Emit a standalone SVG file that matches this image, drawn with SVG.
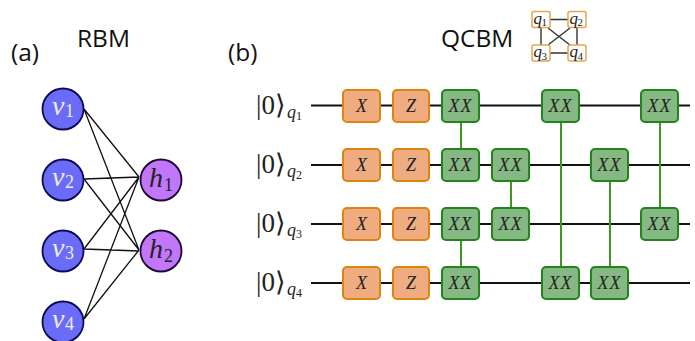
<svg xmlns="http://www.w3.org/2000/svg" width="695" height="341" viewBox="0 0 695 341">
<style>
.s{font-family:"Open Sans","DejaVu Sans",sans-serif;fill:#111;font-size:24.500px}
.m{font-family:"Liberation Serif",serif;font-style:italic;fill:#222}
.r{font-family:"Liberation Serif",serif;fill:#222}
.w{fill:#eee}
.v{fill:#6a6cf8;stroke:#0a0a55;stroke-width:1.8}
.h{fill:#c277fb;stroke:#1a0a33;stroke-width:1.8}
.e{stroke:#111;stroke-width:1.3;fill:none}
.wire{stroke:#111;stroke-width:2;fill:none}
.cz{stroke:#3d9a1e;stroke-width:2;fill:none}
.o{fill:#efac80;stroke:#e08410;stroke-width:2}
.g{fill:#85b882;stroke:#22841a;stroke-width:2}
.q{fill:#fff;stroke:#e5a64e;stroke-width:1.5}
.t{stroke:#333;stroke-width:1.4;fill:none}
.lb{font-size:28px}
.ls{font-size:18px}
.gt{font-size:18px;text-anchor:middle}
.xx{font-size:18px;text-anchor:middle;letter-spacing:1px}
.tq{font-size:17px}
.ts{font-size:11px}
.ket{font-size:27px}
.kq{font-size:18px}
.ks{font-size:12px}
</style>
<text class="s" x="11" y="61">(a)</text>
<text class="s" x="77" y="47">RBM</text>
<text class="s" x="228" y="61">(b)</text>
<text class="s" x="441" y="47">QCBM</text>
<g id="rbm-edges">
<path class="e" d="M84 109L139 177M84 109L139 250M84 179L139 177M84 179L139 250M84 249L139 177M84 249L139 251M84 319L139 177M84 319L139 250"/>
</g>
<g id="v1"><circle class="v" cx="63" cy="109" r="20.5"/><text x="52" y="115" class="m w lb">v</text><text x="65" y="117" class="r w ls">1</text></g>
<g id="v2"><circle class="v" cx="63" cy="180" r="20.5"/><text x="52" y="186" class="m w lb">v</text><text x="65" y="188" class="r w ls">2</text></g>
<g id="v3"><circle class="v" cx="63" cy="251" r="20.5"/><text x="52" y="257" class="m w lb">v</text><text x="65" y="259" class="r w ls">3</text></g>
<g id="v4"><circle class="v" cx="63" cy="322" r="20.5"/><text x="52" y="328" class="m w lb">v</text><text x="65" y="330" class="r w ls">4</text></g>
<g id="h1"><circle class="h" cx="161" cy="180" r="20.5"/><text x="149" y="187" class="m lb">h</text><text x="164" y="191" class="r ls">1</text></g>
<g id="h2"><circle class="h" cx="161" cy="251" r="20.5"/><text x="149" y="258" class="m lb">h</text><text x="164" y="262" class="r ls">2</text></g>
<g id="topology-edges">
<path class="t" d="M550 19.500H568M550 53H568M541 27V45M577 27V45M548 28L570 45M570 28L548 45"/>
</g>
<g id="t-q1"><rect class="q" x="532" y="11.500" width="18" height="16" rx="2"/><text class="m tq" x="533.500" y="23.500">q</text><text class="r ts" x="541.500" y="26">1</text></g>
<g id="t-q2"><rect class="q" x="568" y="11.500" width="18" height="16" rx="2"/><text class="m tq" x="569.500" y="23.500">q</text><text class="r ts" x="577.500" y="26">2</text></g>
<g id="t-q3"><rect class="q" x="532" y="45" width="18" height="16" rx="2"/><text class="m tq" x="533.500" y="57">q</text><text class="r ts" x="541.500" y="59.500">3</text></g>
<g id="t-q4"><rect class="q" x="568" y="45" width="18" height="16" rx="2"/><text class="m tq" x="569.500" y="57">q</text><text class="r ts" x="577.500" y="59.500">4</text></g>
<g id="connectors">
<path class="wire" d="M311 105.500H690M311 165H690M311 224H690M311 283H690"/>
<path class="cz" d="M461 122V149M511 181V208M461 240V267M561 122V267M610 181V267M660 122V208"/>
</g>
<g id="ket1"><text class="r ket" x="256" y="114">|0⟩</text><text class="m kq" x="287" y="118">q</text><text class="r ks" x="296" y="120">1</text></g>
<g id="ket2"><text class="r ket" x="256" y="173">|0⟩</text><text class="m kq" x="287" y="177">q</text><text class="r ks" x="296" y="179">2</text></g>
<g id="ket3"><text class="r ket" x="256" y="232">|0⟩</text><text class="m kq" x="287" y="236">q</text><text class="r ks" x="296" y="238">3</text></g>
<g id="ket4"><text class="r ket" x="256" y="291">|0⟩</text><text class="m kq" x="287" y="295">q</text><text class="r ks" x="296" y="297">4</text></g>
<g id="x1"><rect class="o" x="343" y="90" width="37" height="32" rx="4"/><text class="m gt" x="361.500" y="112">X</text></g>
<g id="z1"><rect class="o" x="393" y="90" width="36" height="32" rx="4"/><text class="m gt" x="411" y="112">Z</text></g>
<g id="x2"><rect class="o" x="343" y="149" width="37" height="32" rx="4"/><text class="m gt" x="361.500" y="171">X</text></g>
<g id="z2"><rect class="o" x="393" y="149" width="36" height="32" rx="4"/><text class="m gt" x="411" y="171">Z</text></g>
<g id="x3"><rect class="o" x="343" y="208" width="37" height="32" rx="4"/><text class="m gt" x="361.500" y="230">X</text></g>
<g id="z3"><rect class="o" x="393" y="208" width="36" height="32" rx="4"/><text class="m gt" x="411" y="230">Z</text></g>
<g id="x4"><rect class="o" x="343" y="267" width="37" height="32" rx="4"/><text class="m gt" x="361.500" y="289">X</text></g>
<g id="z4"><rect class="o" x="393" y="267" width="36" height="32" rx="4"/><text class="m gt" x="411" y="289">Z</text></g>
<g id="xx1"><rect class="g" x="442" y="90" width="37" height="32" rx="4"/><text class="m xx" x="460.500" y="112">XX</text></g>
<g id="xx2"><rect class="g" x="442" y="149" width="37" height="32" rx="4"/><text class="m xx" x="460.500" y="171">XX</text></g>
<g id="xx3"><rect class="g" x="442" y="208" width="37" height="32" rx="4"/><text class="m xx" x="460.500" y="230">XX</text></g>
<g id="xx4"><rect class="g" x="442" y="267" width="37" height="32" rx="4"/><text class="m xx" x="460.500" y="289">XX</text></g>
<g id="xx5"><rect class="g" x="492" y="149" width="37" height="32" rx="4"/><text class="m xx" x="510.500" y="171">XX</text></g>
<g id="xx6"><rect class="g" x="492" y="208" width="37" height="32" rx="4"/><text class="m xx" x="510.500" y="230">XX</text></g>
<g id="xx7"><rect class="g" x="542" y="90" width="37" height="32" rx="4"/><text class="m xx" x="560.500" y="112">XX</text></g>
<g id="xx8"><rect class="g" x="542" y="267" width="37" height="32" rx="4"/><text class="m xx" x="560.500" y="289">XX</text></g>
<g id="xx9"><rect class="g" x="591" y="149" width="37" height="32" rx="4"/><text class="m xx" x="609.500" y="171">XX</text></g>
<g id="xx10"><rect class="g" x="591" y="267" width="37" height="32" rx="4"/><text class="m xx" x="609.500" y="289">XX</text></g>
<g id="xx11"><rect class="g" x="641" y="90" width="37" height="32" rx="4"/><text class="m xx" x="659.500" y="112">XX</text></g>
<g id="xx12"><rect class="g" x="641" y="208" width="37" height="32" rx="4"/><text class="m xx" x="659.500" y="230">XX</text></g>
</svg>
